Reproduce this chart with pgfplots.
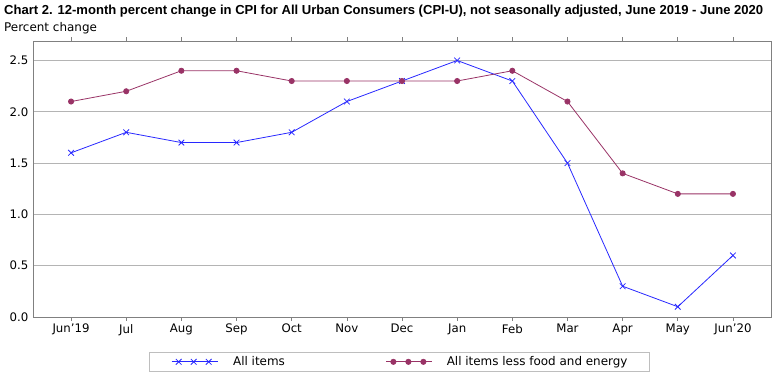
\documentclass[border=0pt]{standalone}
\usepackage{pgfplots}
\pgfplotsset{compat=1.18}
\usepackage{fontspec}
\setmainfont{DejaVu Sans}
\newfontfamily\titlefont{Liberation Sans}
\definecolor{cpiblue}{RGB}{40,40,255}
\definecolor{cpimaroon}{RGB}{153,51,102}
\definecolor{gridgray}{RGB}{180,180,180}
\definecolor{framegray}{RGB}{128,128,128}
\definecolor{legendgray}{RGB}{190,190,190}
\begin{document}
\begin{tikzpicture}
\useasboundingbox (0bp,0bp) rectangle (774bp,377bp);
\node[anchor=base west, inner sep=0pt, font=\titlefont\bfseries\fontsize{13.1}{15}\selectfont] at (4bp,362bp) {Chart 2. 12-month percent change in CPI for All Urban Consumers (CPI-U), not seasonally adjusted, June 2019 - June 2020};
\node[anchor=base west, inner sep=0pt, font=\fontsize{12}{14}\selectfont] at (4bp,345.5bp) {Percent change};
\begin{axis}[
  at={(33bp,60bp)}, anchor=south west, scale only axis,
  width=738bp, height=276bp,
  xmin=-0.69, xmax=12.69, ymin=0, ymax=2.69,
  xtick={0,...,12},
  xticklabels={Jun'19,Jul,Aug,Sep,Oct,Nov,Dec,Jan,Feb,Mar,Apr,May,Jun'20},
  ytick={0,0.5,1,1.5,2,2.5},
  /pgf/number format/.cd, fixed, fixed zerofill, precision=1, assume math mode=true, /pgfplots/.cd,
  ymajorgrids, grid style={gridgray, line width=0.6bp},
  axis line style={framegray, line width=0.8bp},
  tick align=outside, major tick length=3.5bp,
  xtick style={framegray, line width=0.6bp}, ytick style={draw=none},
  xticklabel style={font=\fontsize{11.8}{13}\selectfont, inner sep=0pt, yshift=-3.5bp},
  yticklabel style={font=\fontsize{11.8}{13}\selectfont, inner sep=0pt, xshift=-1bp},
  legend columns=2,
  legend image code/.code={%
    \draw[mark=none] (0bp,0bp) -- (46bp,0bp);
    \draw[only marks] plot coordinates {(7bp,0bp) (22bp,0bp) (37bp,0bp)};},
  legend style={at={(0.1572,-0.1268)}, anchor=north west, draw=legendgray, line width=0.6bp,
    font=\fontsize{12}{13}\selectfont, inner xsep=22bp, inner ysep=4bp,
    nodes={inner sep=0pt, text depth=0.2em},
    /tikz/column 1/.style={column sep=15bp},
    /tikz/column 2/.style={column sep=101bp},
    /tikz/column 3/.style={column sep=14bp}},
]
\addplot[cpiblue, line width=0.8bp, mark=x, mark size=4bp] coordinates {
(0,1.6)(1,1.8)(2,1.7)(3,1.7)(4,1.8)(5,2.1)(6,2.3)(7,2.5)(8,2.3)(9,1.5)(10,0.3)(11,0.1)(12,0.6)};
\addlegendentry{All items}
\addplot[cpimaroon, line width=0.8bp, mark=*, mark size=2.6bp] coordinates {
(0,2.1)(1,2.2)(2,2.4)(3,2.4)(4,2.3)(5,2.3)(6,2.3)(7,2.3)(8,2.4)(9,2.1)(10,1.4)(11,1.2)(12,1.2)};
\addlegendentry{All items less food and energy}
\end{axis}
\end{tikzpicture}
\end{document}
